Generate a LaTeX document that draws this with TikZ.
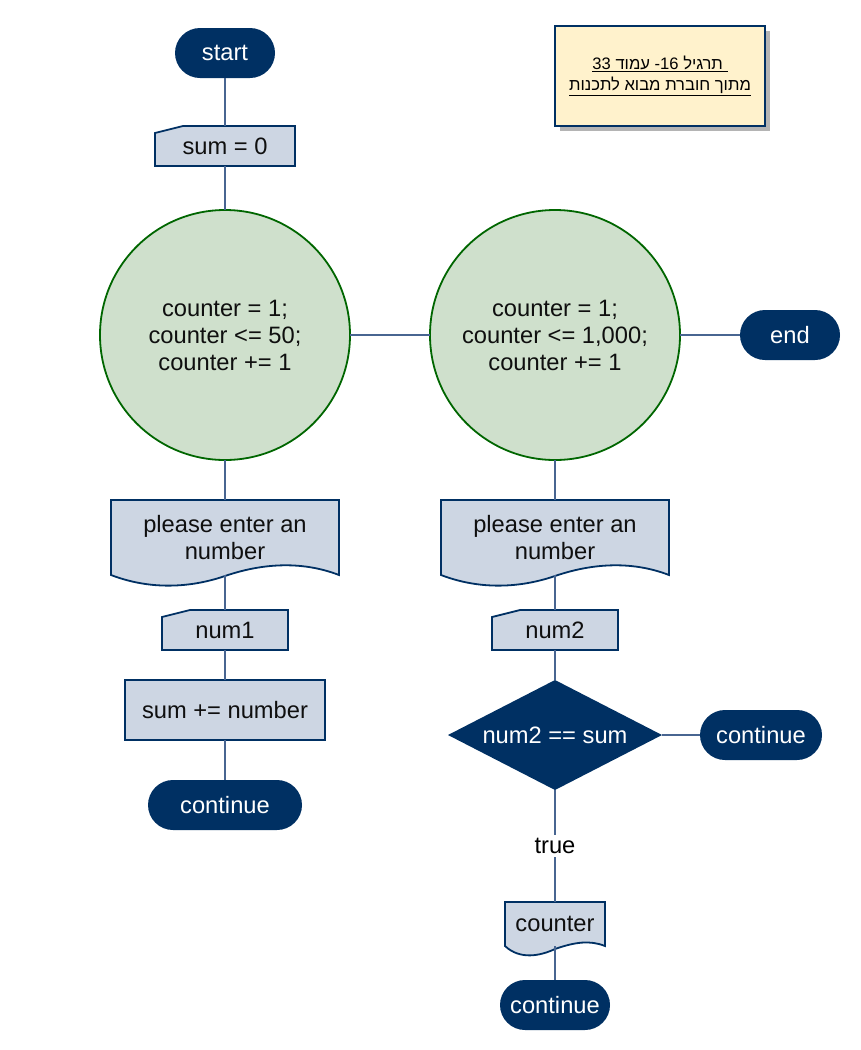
\documentclass[tikz,border=0pt]{standalone}
\usepackage{fontspec}
\setmainfont{Liberation Sans}
\newfontfamily\hebfont[Script=Hebrew]{Liberation Sans}
\TeXXeTstate=1
\usetikzlibrary{shapes.geometric,backgrounds}
\definecolor{navy}{RGB}{0,48,99}
\definecolor{procfill}{RGB}{205,214,227}
\definecolor{loopfill}{RGB}{207,224,204}
\definecolor{loopline}{RGB}{0,102,0}
\definecolor{conn}{RGB}{72,101,145}
\definecolor{notefill}{RGB}{255,242,204}
\definecolor{shadowc}{RGB}{180,180,180}
\definecolor{txt}{RGB}{15,15,15}
\begin{document}
\begin{tikzpicture}[x=1pt,y=-1pt,
  every node/.style={font=\fontsize{23.7}{27}\selectfont, text=txt, inner sep=0pt, outer sep=0pt, align=center},
  term/.style={rectangle, rounded corners=25pt, fill=navy, text=white, minimum height=50pt},
  proc/.style={rectangle, draw=navy, fill=procfill, line width=1.8pt},
  loopc/.style={circle, draw=loopline, fill=loopfill, line width=1.8pt, minimum size=250pt},
  holder/.style={rectangle},
  outline/.style={draw=navy, fill=procfill, line width=1.8pt},
  dec/.style={diamond, fill=navy, text=white, aspect=1.95, minimum width=214pt, minimum height=110pt},
  link/.style={draw=conn, line width=2.4pt},
  notebox/.style={rectangle, draw=navy, fill=notefill, line width=1.8pt, minimum width=210pt, minimum height=100pt, font=\hebfont\fontsize{16.6}{22}\selectfont, text=black}
]
\useasboundingbox (0,0) rectangle (860,1050);

% note with shadow
\fill[shadowc] (560,31) rectangle (770,131);
\node[notebox] (note) at (660,76) {\underline{\beginR\ תרגיל \beginL16\endL- עמוד \beginL33\endL\endR}\\[-1pt]\underline{\beginR מתוך חוברת מבוא לתכנות\endR}};

% terminators
\node[term, minimum width=100pt] (start) at (225,53) {start};
\node[term, minimum width=100pt] (endn) at (790,335) {end};
\node[term, minimum width=154pt] (k1) at (225,805) {continue};
\node[term, minimum width=122pt] (k2) at (761,735) {continue};
\node[term, minimum width=110pt] (k3) at (555,1005) {continue};

% manual inputs
\node[holder, minimum width=140pt, minimum height=40pt] (s0) at (225,146) {sum = 0};
\node[holder, minimum width=126pt, minimum height=40pt] (n1) at (225,630) {num1};
\node[holder, minimum width=126pt, minimum height=40pt] (n2) at (555,630) {num2};

% loops
\node[loopc] (c1) at (225,335) {counter = 1;\\counter <= 50;\\counter += 1};
\node[loopc] (c2) at (555,335) {counter = 1;\\counter <= 1,000;\\counter += 1};

% documents
\node[holder, minimum width=228pt, minimum height=75pt] (d1) at (225,537.5) {please enter an\\number};
\node[holder, minimum width=228pt, minimum height=75pt] (d2) at (555,537.5) {please enter an\\number};
\node[holder, minimum width=100pt, minimum height=44pt] (cnt) at (555,924) {counter};

% process and decision
\node[proc, minimum width=200pt, minimum height=60pt] (sp) at (225,710) {sum += number};
\node[dec] (dc) at (555,735) {num2 == sum};

% shape outlines behind text
\begin{scope}[on background layer]
  \foreach \n in {s0,n1,n2}{
    \path[outline] (\n.south west) -- (\n.south east) -- (\n.north east)
      -- ([xshift=28pt]\n.north west) -- ([yshift=-7pt]\n.north west) -- cycle;
  }
  \path[outline] (d1.north west) -- (d1.north east) -- (d1.south east)
    .. controls (300,560) and (260,564) .. (225,576)
    .. controls (190,588) and (150,590) .. (d1.south west) -- cycle;
  \path[outline] (d2.north west) -- (d2.north east) -- (d2.south east)
    .. controls (630,560) and (590,564) .. (555,576)
    .. controls (520,588) and (480,590) .. (d2.south west) -- cycle;
  \path[outline] (cnt.north west) -- (cnt.north east) -- (cnt.south east)
    .. controls (590,940) and (575,942) .. (555,949)
    .. controls (540,956) and (520,960) .. (cnt.south west) -- cycle;
\end{scope}

% connectors
\draw[link] (start) -- (s0);
\draw[link] (s0) -- (c1);
\draw[link] (c1) -- (c2);
\draw[link] (c2) -- (endn);
\draw[link] (c1) -- (d1);
\draw[link] (d1) -- (n1);
\draw[link] (n1) -- (sp);
\draw[link] (sp) -- (k1);
\draw[link] (c2) -- (d2);
\draw[link] (d2) -- (n2);
\draw[link] (n2) -- (dc);
\draw[link] (dc) -- (k2);
\draw[link] (dc) -- node[fill=white, inner sep=3pt, text=black] (tl) {true} (cnt);
\draw[link] (cnt) -- (k3);
\end{tikzpicture}
\end{document}
